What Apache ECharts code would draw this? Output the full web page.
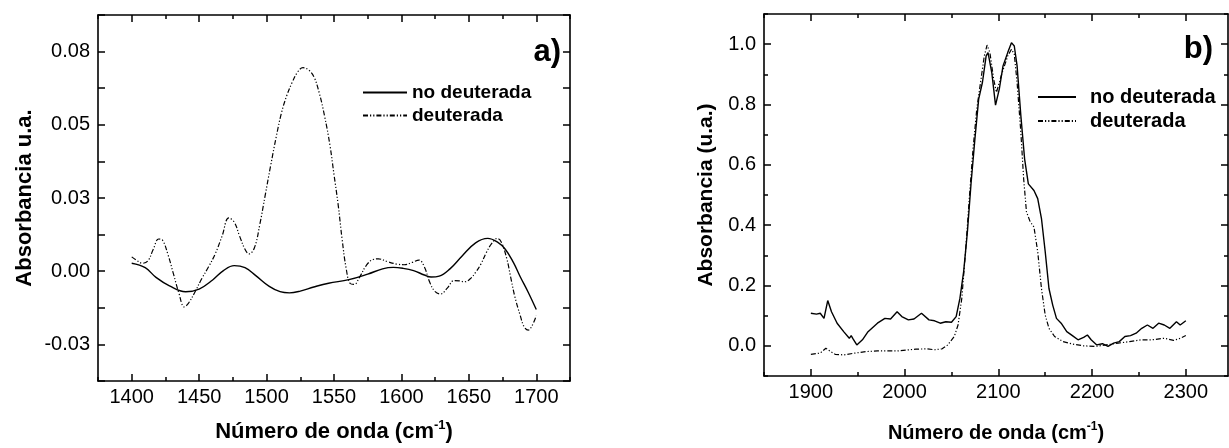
<!DOCTYPE html>
<html>
<head>
<meta charset="utf-8">
<script src="https://cdn.jsdelivr.net/npm/echarts@6/dist/echarts.min.js"></script>
<style>
  html, body { margin: 0; padding: 0; background: #fff; }
  #chart { width: 1229px; height: 448px; }
</style>
</head>
<body>
<div id="chart"></div>
<script>
// panel a) espectro 1400-1700 cm-1
const leftSolid = [
  [1400, 0.0027], [1410, 0.0012], [1418, -0.0021], [1428, -0.0050], [1440, -0.0070],
  [1450, -0.0061], [1460, -0.0030], [1468, 0.0002], [1476, 0.0019], [1484, 0.0012],
  [1492, -0.0015], [1502, -0.0052], [1510, -0.0070], [1517, -0.0074], [1525, -0.0068],
  [1535, -0.0054], [1546, -0.0041], [1561, -0.0029], [1575, -0.0010], [1586, 0.0008],
  [1594, 0.0013], [1601, 0.0010], [1609, 0.0002], [1617, -0.0013], [1622, -0.0020],
  [1628, -0.0017], [1636, 0.0008], [1645, 0.0052], [1655, 0.0097], [1664, 0.0112],
  [1671, 0.0100], [1677, 0.0075], [1683, 0.0030], [1688, -0.0018], [1694, -0.0072],
  [1700, -0.0131],
];
const leftDashed = [
  [1400, 0.0049], [1404, 0.0036], [1408, 0.0027], [1412, 0.0035], [1416, 0.0075],
  [1420, 0.0110], [1423, 0.0105], [1427, 0.0055], [1431, -0.0010], [1435, -0.0075],
  [1439, -0.0122], [1442, -0.0110], [1447, -0.0070], [1452, -0.0025], [1457, 0.0015],
  [1462, 0.0060], [1467, 0.0120], [1472, 0.0182], [1476, 0.0168], [1480, 0.0120],
  [1484, 0.0075], [1487, 0.0059], [1491, 0.0080], [1495, 0.0160], [1499, 0.0260],
  [1503, 0.0360], [1507, 0.0455], [1511, 0.0540], [1515, 0.0600], [1519, 0.0645],
  [1523, 0.0680], [1527, 0.0695], [1531, 0.0688], [1535, 0.0665], [1539, 0.0610],
  [1543, 0.0530], [1547, 0.0430], [1550, 0.0330], [1553, 0.0230], [1556, 0.0110],
  [1559, 0.0010], [1562, -0.0042], [1565, -0.0045], [1569, -0.0020], [1574, 0.0020],
  [1579, 0.0040], [1583, 0.0042], [1590, 0.0032], [1597, 0.0024], [1602, 0.0022],
  [1608, 0.0030], [1613, 0.0038], [1617, 0.0015], [1621, -0.0038], [1625, -0.0070],
  [1629, -0.0078], [1634, -0.0058], [1639, -0.0032], [1643, -0.0033], [1647, -0.0036],
  [1651, -0.0026], [1655, -0.0004], [1659, 0.0025], [1663, 0.0064], [1667, 0.0095],
  [1671, 0.0112], [1674, 0.0100], [1678, 0.0045], [1681, -0.0020], [1684, -0.0085],
  [1688, -0.0150], [1691, -0.0190], [1694, -0.0201], [1697, -0.0185], [1700, -0.0152],
];

// panel b) espectro 1900-2300 cm-1
const rightSolid = [
  [1900, 0.108], [1906, 0.105], [1910, 0.108], [1914, 0.091], [1918, 0.150],
  [1922, 0.113], [1928, 0.075], [1935, 0.047], [1941, 0.025], [1943, 0.034],
  [1945, 0.023], [1949, 0.003], [1955, 0.020], [1961, 0.047], [1971, 0.075],
  [1979, 0.091], [1985, 0.089], [1992, 0.113], [1997, 0.097], [2004, 0.086],
  [2010, 0.089], [2018, 0.108], [2026, 0.086], [2032, 0.083], [2038, 0.075],
  [2044, 0.080], [2050, 0.078], [2055, 0.097], [2059, 0.157], [2063, 0.246],
  [2067, 0.378], [2071, 0.543], [2075, 0.686], [2079, 0.818], [2083, 0.873],
  [2087, 0.961], [2089, 0.972], [2093, 0.906], [2097, 0.798], [2101, 0.851],
  [2105, 0.928], [2110, 0.972], [2114, 1.005], [2117, 0.994], [2120, 0.928],
  [2124, 0.763], [2128, 0.620], [2132, 0.537], [2138, 0.515], [2142, 0.488],
  [2146, 0.422], [2150, 0.312], [2154, 0.190], [2158, 0.135], [2162, 0.091],
  [2167, 0.075], [2173, 0.047], [2179, 0.034], [2185, 0.020], [2191, 0.028],
  [2195, 0.036], [2199, 0.020], [2205, 0.003], [2211, 0.007], [2217, -0.002],
  [2223, 0.009], [2229, 0.014], [2235, 0.031], [2241, 0.034], [2247, 0.042],
  [2253, 0.058], [2259, 0.069], [2265, 0.058], [2271, 0.075], [2277, 0.069],
  [2283, 0.058], [2290, 0.080], [2294, 0.069], [2300, 0.083],
];
const rightDashed = [
  [1900, -0.028], [1910, -0.024], [1916, -0.008], [1918, -0.002], [1921, -0.019],
  [1926, -0.028], [1935, -0.030], [1947, -0.024], [1959, -0.019], [1971, -0.017],
  [1992, -0.017], [2012, -0.011], [2024, -0.010], [2032, -0.013], [2040, -0.010],
  [2046, 0.003], [2053, 0.031], [2057, 0.069], [2061, 0.157], [2065, 0.312],
  [2069, 0.488], [2073, 0.653], [2077, 0.785], [2081, 0.873], [2085, 0.961],
  [2088, 0.997], [2091, 0.972], [2095, 0.884], [2098, 0.840], [2103, 0.895],
  [2110, 0.961], [2114, 0.983], [2117, 0.967], [2120, 0.873], [2124, 0.708],
  [2127, 0.554], [2130, 0.444], [2134, 0.411], [2138, 0.394], [2142, 0.312],
  [2146, 0.190], [2150, 0.102], [2154, 0.058], [2160, 0.031], [2169, 0.014],
  [2179, 0.006], [2191, 0.000], [2203, -0.002], [2215, 0.003], [2228, 0.009],
  [2240, 0.014], [2252, 0.020], [2264, 0.020], [2277, 0.025], [2287, 0.018],
  [2294, 0.025], [2300, 0.034],
];

// ticks (Origin style: labels redondeadas a 2 decimales en a)
const leftXTicks = [1400, 1450, 1500, 1550, 1600, 1650, 1700];
const leftXMinor = [1375, 1425, 1475, 1525, 1575, 1625, 1675, 1725];
const leftYTicks = [-0.025, 0, 0.025, 0.05, 0.075];
const leftYLabels = ["-0.03", "0.00", "0.03", "0.05", "0.08"];
const leftYMinor = [-0.0375, -0.0125, 0.0125, 0.0375, 0.0625, 0.0875];
const rightXTicks = [1900, 2000, 2100, 2200, 2300];
const rightXMinor = [1850, 1950, 2050, 2150, 2250];
const rightYTicks = [0, 0.2, 0.4, 0.6, 0.8, 1.0];
const rightYLabels = ["0.0", "0.2", "0.4", "0.6", "0.8", "1.0"];
const rightYMinor = [-0.1, 0.1, 0.3, 0.5, 0.7, 0.9, 1.1];

const seriesNames = ["no deuterada", "deuterada"];

const FONT = "Liberation Sans, Arial, Helvetica, sans-serif";
const DASH = [5, 2, 1.2, 2, 1.2, 2];

function labelFor(ticks, labels) {
  return (v) => {
    const i = ticks.findIndex((t) => Math.abs(t - v) < 1e-9);
    return i >= 0 ? labels[i] : "";
  };
}

// 4 lados del marco, cada uno con eje de ticks mayores + eje de ticks menores
function frame(grid, range, major, minor, opts) {
  const base = (pos, dim) => ({
    type: "value",
    gridIndex: grid,
    position: pos,
    min: range[dim][0],
    max: range[dim][1],
    splitLine: { show: false },
    axisLine: { show: true, onZero: false, lineStyle: { color: "#000", width: 1.6 } },
  });
  const side = (pos, dim, withLabel, name) => {
    const maj = Object.assign(base(pos, dim), {
      axisTick: {
        inside: true, length: 7, customValues: major[dim],
        lineStyle: { color: "#000", width: 1.5 },
      },
      axisLabel: withLabel
        ? {
            show: true, customValues: major[dim], formatter: opts.fmt[dim],
            color: "#000", fontFamily: FONT, fontSize: 20, margin: dim === "x" ? 6 : 8,
          }
        : { show: false },
    });
    if (name) Object.assign(maj, name);
    const min = Object.assign(base(pos, dim), {
      axisLine: { show: false, onZero: false },
      axisTick: {
        inside: true, length: opts.minorLen[dim], customValues: minor[dim],
        lineStyle: { color: "#000", width: 1.5 },
      },
      axisLabel: { show: false },
    });
    return [maj, min];
  };
  return {
    x: [...side("bottom", "x", true, opts.xName), ...side("top", "x", false)],
    y: [...side("left", "y", true, opts.yName), ...side("right", "y", false)],
  };
}

const titleRich = (size) => ({
  t: { fontFamily: FONT, fontSize: size, fontWeight: "bold", color: "#000", lineHeight: size + 4 },
  sup: { fontFamily: FONT, fontSize: Math.round(size * 0.6), fontWeight: "bold", color: "#000", verticalAlign: "top", lineHeight: size + 4 },
});

const fa = frame(
  0,
  { x: [1375, 1725], y: [-0.0375, 0.0875] },
  { x: leftXTicks, y: leftYTicks },
  { x: leftXMinor, y: leftYMinor },
  {
    fmt: { x: (v) => String(v), y: labelFor(leftYTicks, leftYLabels) },
    minorLen: { x: 4, y: 7 },
    xName: {
      name: "{t|Número de onda (cm}{sup|-1}{t|)}",
      nameLocation: "middle", nameGap: 38,
      nameTextStyle: { rich: titleRich(22) },
    },
    yName: {
      name: "Absorbancia u.a.",
      nameLocation: "middle", nameGap: 62,
      nameTextStyle: { fontFamily: FONT, fontSize: 22, fontWeight: "bold", color: "#000" },
    },
  }
);
const fb = frame(
  1,
  { x: [1850, 2345], y: [-0.1, 1.1] },
  { x: rightXTicks, y: rightYTicks },
  { x: rightXMinor, y: rightYMinor },
  {
    fmt: { x: (v) => String(v), y: labelFor(rightYTicks, rightYLabels) },
    minorLen: { x: 4, y: 4 },
    xName: {
      name: "{t|Número de onda (cm}{sup|-1}{t|)}",
      nameLocation: "middle", nameGap: 45,
      nameTextStyle: { rich: titleRich(20) },
    },
    yName: {
      name: "Absorbancia (u.a.)",
      nameLocation: "middle", nameGap: 47,
      nameTextStyle: { fontFamily: FONT, fontSize: 21, fontWeight: "bold", color: "#000" },
    },
  }
);

const line = (name, data, xi, yi, dashed, smooth) => ({
  name, type: "line", data, xAxisIndex: xi, yAxisIndex: yi,
  symbol: "none", smooth, silent: true,
  itemStyle: { color: "#000" },
  lineStyle: { color: "#000", width: dashed ? 1.2 : 1.4, type: dashed ? DASH : "solid" },
});

const legendBase = {
  orient: "vertical", padding: 0, itemWidth: 44, itemHeight: 14, itemGap: 4,
  selectedMode: false, data: seriesNames,
  itemStyle: { opacity: 0 },
  textStyle: { fontFamily: FONT, fontSize: 19, fontWeight: "bold", color: "#000" },
};

const chart = echarts.init(document.getElementById("chart"));
chart.setOption({
  animation: false,
  backgroundColor: "#fff",
  grid: [
    { left: 98, top: 15, width: 472, height: 367 },
    { left: 764, top: 14, width: 464, height: 363 },
  ],
  xAxis: [...fa.x, ...fb.x],
  yAxis: [...fa.y, ...fb.y],
  legend: [
    Object.assign({}, legendBase, { left: 362, top: 83 }),
    Object.assign({}, legendBase, {
      left: 1037, top: 87, itemWidth: 38,
      textStyle: Object.assign({}, legendBase.textStyle, { fontSize: 20, padding: [0, 0, 0, 9] }),
    }),
  ],
  graphic: [
    { type: "text", x: 561, y: 52, style: { text: "a)", font: "bold 31px " + FONT, fill: "#000", align: "right", verticalAlign: "middle" } },
    { type: "text", x: 1213, y: 49, style: { text: "b)", font: "bold 31px " + FONT, fill: "#000", align: "right", verticalAlign: "middle" } },
  ],
  series: [
    line(seriesNames[0], leftSolid, 0, 0, false, 0.4),
    line(seriesNames[1], leftDashed, 0, 0, true, 0.4),
    line(seriesNames[0], rightSolid, 4, 4, false, false),
    line(seriesNames[1], rightDashed, 4, 4, true, false),
  ],
});
</script>
</body>
</html>
